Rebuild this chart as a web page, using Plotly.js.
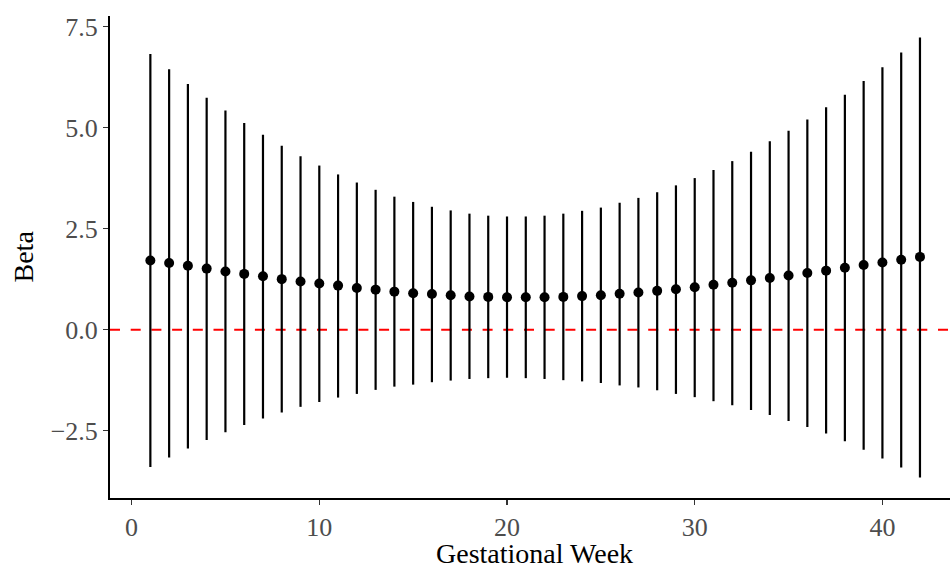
<!DOCTYPE html>
<html>
<head>
<meta charset="utf-8">
<script src="https://cdn.plot.ly/plotly-3.0.1.min.js"></script>
<style>html,body{margin:0;padding:0;background:#fff}#chart{width:950px;height:565px}</style>
</head>
<body>
<div id="chart"></div>
<script>
const weeks = Array.from({length: 42}, (_, i) => i + 1);
const beta = [1.71,1.65,1.58,1.51,1.44,1.38,1.32,1.25,1.19,1.14,1.09,1.03,0.99,0.94,0.90,0.88,0.85,0.82,0.81,0.80,0.80,0.80,0.81,0.83,0.85,0.89,0.92,0.96,1.00,1.05,1.11,1.16,1.22,1.28,1.34,1.40,1.46,1.53,1.60,1.66,1.73,1.80];
const upper = [6.82,6.44,6.08,5.74,5.42,5.11,4.82,4.55,4.29,4.06,3.84,3.64,3.46,3.29,3.16,3.04,2.95,2.87,2.82,2.80,2.80,2.82,2.87,2.94,3.02,3.14,3.26,3.40,3.57,3.75,3.95,4.17,4.40,4.66,4.92,5.20,5.50,5.81,6.15,6.49,6.86,7.23];
const lower = [-3.40,-3.16,-2.94,-2.73,-2.54,-2.36,-2.20,-2.05,-1.91,-1.79,-1.68,-1.59,-1.49,-1.41,-1.36,-1.30,-1.26,-1.22,-1.20,-1.19,-1.20,-1.22,-1.25,-1.28,-1.32,-1.38,-1.43,-1.50,-1.59,-1.67,-1.77,-1.87,-1.99,-2.11,-2.26,-2.41,-2.57,-2.76,-2.97,-3.19,-3.41,-3.66];
const xTicks = [0, 10, 20, 30, 40];
const yTicks = [-2.5, 0, 2.5, 5, 7.5];
const yTickText = ['\u22122.5', '0.0', '2.5', '5.0', '7.5'];
const xTitle = 'Gestational Week';
const yTitle = 'Beta';

const errPlus = upper.map((u, i) => u - beta[i]);
const errMinus = lower.map((l, i) => beta[i] - l);

const trace = {
  x: weeks, y: beta, type: 'scatter', mode: 'markers',
  marker: {color: '#000', size: 10},
  error_y: {type: 'data', symmetric: false, array: errPlus, arrayminus: errMinus,
            color: '#000', thickness: 2.2, width: 0},
  hoverinfo: 'skip', showlegend: false
};

const font = 'Liberation Serif, Times New Roman, serif';
const layout = {
  width: 950, height: 565,
  margin: {l: 110, r: 0, t: 16, b: 67},
  paper_bgcolor: '#fff', plot_bgcolor: '#fff',
  font: {family: font},
  xaxis: {
    range: [-1.15, 43.6], tickvals: xTicks, ticktext: xTicks.map(String),
    showgrid: false, zeroline: false, showline: true, linecolor: '#000', linewidth: 2,
    ticks: 'outside', ticklen: 5, tickwidth: 1.5, tickcolor: '#333',
    tickfont: {family: font, size: 26, color: '#4d4d4d'}
  },
  yaxis: {
    range: [-4.165, 7.76], tickvals: yTicks, ticktext: yTickText,
    showgrid: false, zeroline: false, showline: true, linecolor: '#000', linewidth: 2,
    ticks: 'outside', ticklen: 5, tickwidth: 1.5, tickcolor: '#333',
    tickfont: {family: font, size: 26, color: '#4d4d4d'}
  },
  annotations: [
    {text: xTitle, xref: 'paper', yref: 'paper', x: 0.505, y: 0, xanchor: 'center', yanchor: 'top',
     yshift: -38, showarrow: false, font: {family: font, size: 28, color: '#000'}},
    {text: yTitle, xref: 'paper', yref: 'paper', x: 0, y: 0.5, xanchor: 'center', yanchor: 'middle',
     xshift: -87.5, textangle: -90, showarrow: false, font: {family: font, size: 28, color: '#000'}}
  ],
  shapes: [{
    type: 'line', xref: 'paper', x0: 0, x1: 1, yref: 'y', y0: 0, y1: 0,
    line: {color: '#ff0000', width: 2, dash: '10px,10.7px'}, layer: 'below'
  }]
};

Plotly.newPlot('chart', [trace], layout, {displayModeBar: false, staticPlot: true});
</script>
</body>
</html>
